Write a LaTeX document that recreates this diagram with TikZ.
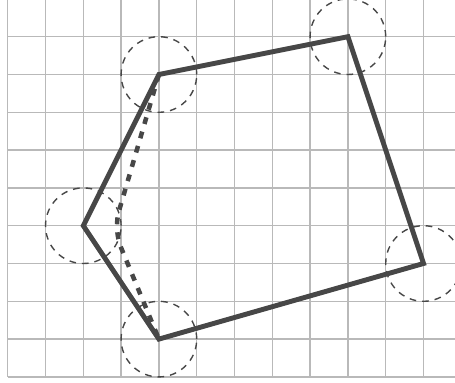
\documentclass[tikz,border=0pt]{standalone}
\begin{document}
\begin{tikzpicture}[
  gridline/.style={draw=gray!55, line width=1pt},
  shapeline/.style={draw=black!72, line width=3.7pt, line join=miter},
  dotline/.style={draw=black!72, line width=3.4pt, dash pattern=on 5.2pt off 6pt, rounded corners=14pt},
  ring/.style={draw=black!72, line width=1.05pt, dash pattern=on 5pt off 4.5pt}
]
\useasboundingbox (-0.204,-0.161) rectangle (11.833,9.971);
\begin{scope}
\clip (-0.204,-0.161) rectangle (11.833,9.971);
\draw[gridline] (0,0) grid (12,10.5);
\coordinate (A) at (4,1);
\coordinate (B) at (2,4);
\coordinate (C) at (4,8);
\coordinate (D) at (9,9);
\coordinate (E) at (11,3);
\coordinate (K) at (2.8,3.9);
\foreach \p in {A,B,C,D,E} \draw[ring] (\p) circle (1);
\draw[shapeline] (A) -- (B) -- (C) -- (D) -- (E) -- cycle;
\draw[dotline] (C) -- (K) -- (A);
\end{scope}
\end{tikzpicture}
\end{document}
